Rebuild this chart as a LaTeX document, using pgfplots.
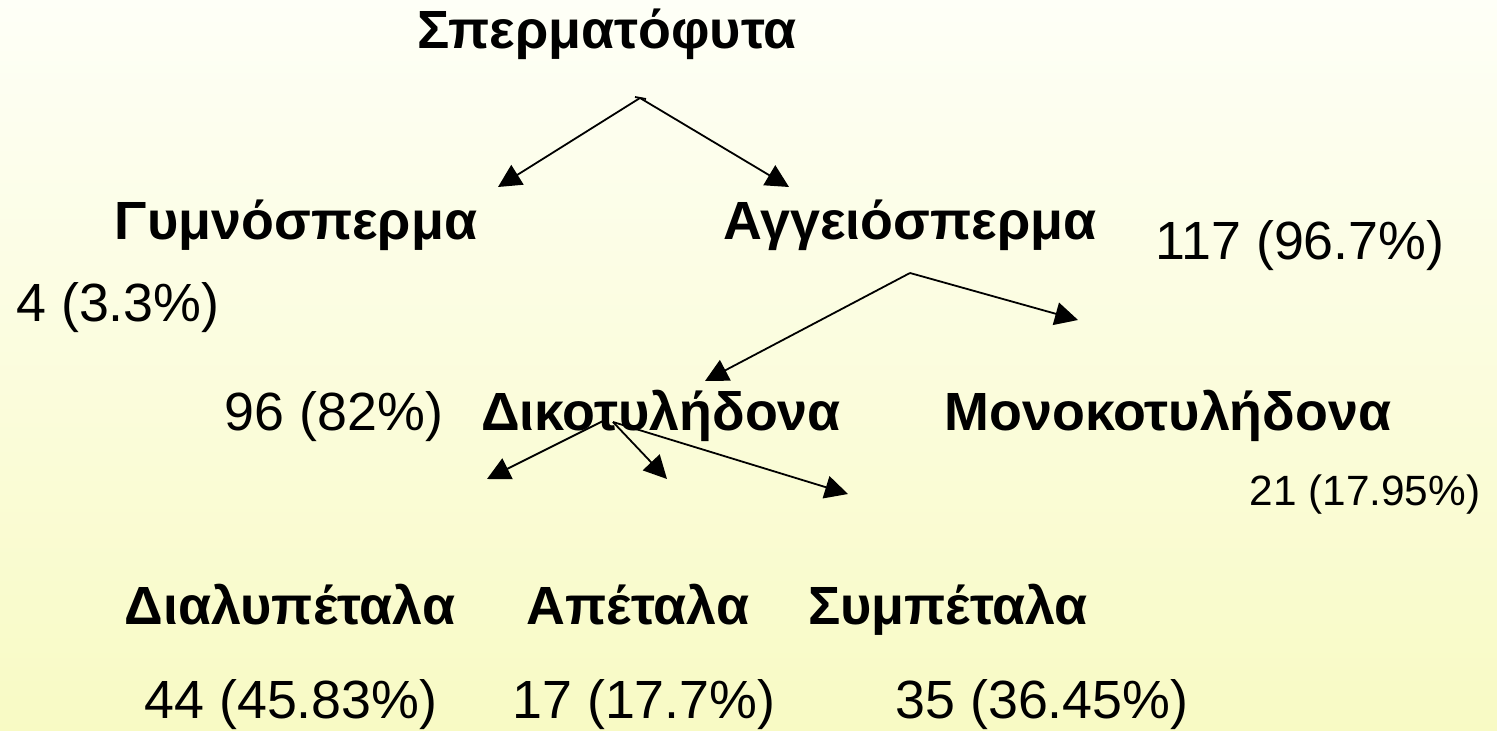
\documentclass[border=0pt]{standalone}
\usepackage{fontspec}
\setmainfont{Liberation Sans}
\usepackage{pgfplots}
\pgfplotsset{compat=1.18}
\usetikzlibrary{arrows.meta}
\definecolor{bgtop}{RGB}{254,255,247}
\definecolor{bgbot}{RGB}{248,250,196}
\tikzset{lab/.style={anchor=base, inner sep=0pt, font=\fontsize{54}{62}\selectfont\bfseries},
         num/.style={anchor=base, inner sep=0pt, font=\fontsize{54}{62}\selectfont},
         sml/.style={anchor=base, inner sep=0pt, font=\fontsize{42.5}{50}\selectfont},
         arr/.style={-{Triangle[length=23bp,width=23bp]}}}
\begin{document}
\begin{tikzpicture}
\begin{axis}[
  width=1497bp, height=731bp, scale only axis,
  xmin=0, xmax=1497, ymin=0, ymax=731, y dir=reverse,
  axis lines=none, clip=false,
  cycle list={{black,solid,no markers}},
  every axis plot post/.append style={black, solid, no markers, line width=1.8bp},
]
\fill[top color=bgtop, bottom color=bgbot, draw=none] (axis cs:0,0) rectangle (axis cs:1497,731);
% arrows
\addplot[arr] coordinates {(640,98) (498,187)};
\addplot[arr] coordinates {(640,98) (789,187)};
\addplot coordinates {(635,97) (646,99)};
\addplot[arr] coordinates {(910,273) (705,381)};
\addplot[arr] coordinates {(910,273) (1078,320)};
\addplot[arr] coordinates {(607,419) (487,479)};
\addplot[arr] coordinates {(613,422) (667,479)};
\addplot[arr] coordinates {(613,422) (848,494)};
% labels
\node[lab] at (axis cs:607,49) {Σπερματόφυτα};
\node[lab] at (axis cs:296,240) {Γυμνόσπερμα};
\node[lab] at (axis cs:910,240) {Αγγειόσπερμα};
\node[num] at (axis cs:1300,260) {117 (96.7\%)};
\node[num] at (axis cs:118,322) {4 (3.3\%)};
\node[num] at (axis cs:334,430) {96 (82\%)};
\node[lab] at (axis cs:661,430) {Δικοτυλήδονα};
\node[lab] at (axis cs:1168,430) {Μονοκοτυλήδονα};
\node[sml] at (axis cs:1365,505) {21 (17.95\%)};
\node[lab] at (axis cs:290,624) {Διαλυπέταλα};
\node[lab] at (axis cs:638,624) {Απέταλα};
\node[lab] at (axis cs:948,624) {Συμπέταλα};
\node[num] at (axis cs:291,718) {44 (45.83\%)};
\node[num] at (axis cs:644,718) {17 (17.7\%)};
\node[num] at (axis cs:1042,718) {35 (36.45\%)};
\end{axis}
\end{tikzpicture}
\end{document}
